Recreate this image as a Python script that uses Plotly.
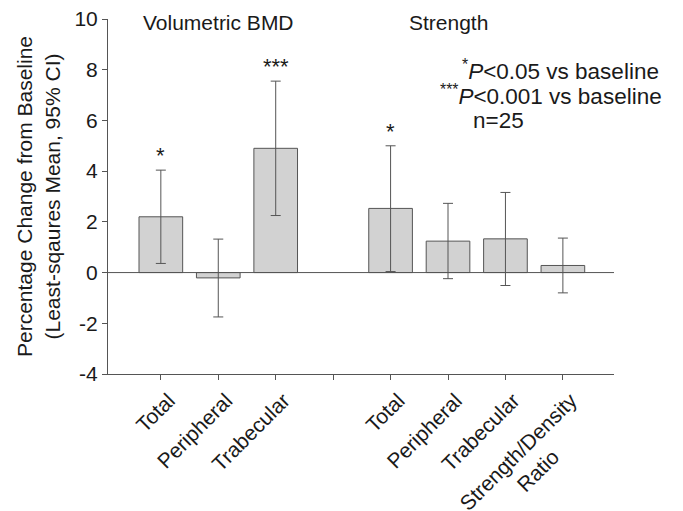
import plotly.graph_objects as go

categories = ["Total", "Peripheral", "Trabecular", "", "Total", "Peripheral", "Trabecular",
              "Strength/Density<br>Ratio" + "\u00a0" * 9]
bar_pos = [0, 1, 2, 4, 5, 6, 7]
means = [2.2, -0.21, 4.9, 2.53, 1.24, 1.33, 0.28]
ci_upper = [4.04, 1.32, 7.55, 5.0, 2.73, 3.16, 1.36]
ci_lower = [0.36, -1.75, 2.25, 0.04, -0.24, -0.51, -0.8]
stars = ["*", "", "***", "*", "", "", ""]
y_ticks = [-4, -2, 0, 2, 4, 6, 8, 10]
y_tick_text = ["-4", "-2", "0", "2", "4", "6", "8", "10"]
group_titles = [("Volumetric BMD", 1), ("Strength", 5)]

err_plus = [u - m for u, m in zip(ci_upper, means)]
err_minus = [m - l for m, l in zip(means, ci_lower)]

FONT = "Liberation Sans, Arial, sans-serif"
TXT = "#1a1a1a"
LINE = "#555555"

fig = go.Figure()
fig.add_trace(go.Bar(
    x=bar_pos, y=means, width=0.76,
    marker=dict(color="#d2d2d2", line=dict(color=LINE, width=1)),
    error_y=dict(type="data", symmetric=False, array=err_plus, arrayminus=err_minus,
                 color=LINE, thickness=1, width=5),
    showlegend=False,
))

# zero line
fig.add_shape(type="line", xref="paper", x0=0, x1=1, yref="y", y0=0, y1=0,
              line=dict(color=LINE, width=1))

for s, x, u in zip(stars, bar_pos, ci_upper):
    if s:
        fig.add_annotation(x=x, y=u, text=s, showarrow=False, yanchor="bottom", yshift=0,
                           font=dict(family=FONT, size=22, color=TXT))

for t, x in group_titles:
    fig.add_annotation(x=x, y=10, text=t, showarrow=False, yanchor="middle", yshift=-3,
                       font=dict(family=FONT, size=21, color=TXT))

legend_lines = [
    ("<sup>*</sup><i>P</i><0.05 vs baseline", 0.696, 0.856),
    ("<sup>***</sup><i>P</i><0.001 vs baseline", 0.652, 0.786),
    ("n=25", 0.717, 0.715),
]
for t, x, y in legend_lines:
    fig.add_annotation(xref="paper", yref="paper", x=x, y=y, text=t, showarrow=False,
                       xanchor="left", yanchor="middle",
                       font=dict(family=FONT, size=22.5, color=TXT))

fig.update_layout(
    width=683, height=511,
    margin=dict(l=108, r=69, t=19, b=137, autoexpand=False),
    plot_bgcolor="white", paper_bgcolor="white",
    font=dict(family=FONT, size=21, color=TXT),
    xaxis=dict(
        range=[-0.92, 7.89], tickmode="array", tickvals=list(range(8)), ticktext=categories,
        tickangle=-45, ticks="outside", ticklen=5, tickcolor=LINE, tickwidth=1,
        ticklabelshift=8,
        showline=True, linecolor=LINE, linewidth=1, showgrid=False, zeroline=False,
        automargin=False,
        tickfont=dict(family=FONT, size=21, color=TXT),
    ),
    yaxis=dict(
        range=[-4, 10], tickmode="array", tickvals=y_ticks, ticktext=y_tick_text,
        ticks="outside", ticklen=5, tickcolor=LINE,
        showline=True, linecolor=LINE, linewidth=1, showgrid=False, zeroline=False,
        automargin=False,
        tickfont=dict(family=FONT, size=21, color=TXT),
        title=dict(text="Percentage Change from Baseline<br>(Least-sqaures Mean, 95% CI)",
                   font=dict(family=FONT, size=21, color=TXT), standoff=8),
    ),
)

fig.write_html("out.html", config={"displayModeBar": False},
               post_script="document.body.style.margin='0';")
